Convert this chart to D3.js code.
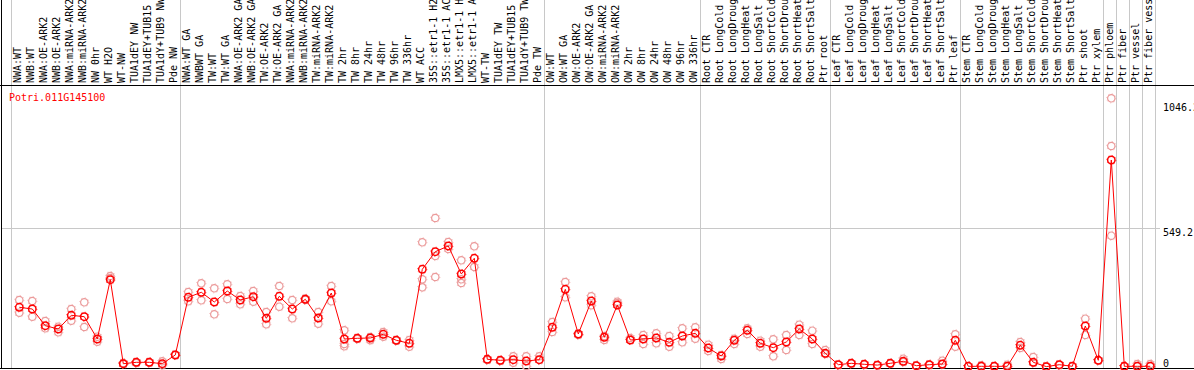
<!DOCTYPE html>
<html>
<head>
<meta charset="utf-8">
<script src="https://cdn.jsdelivr.net/npm/d3@7"></script>
<style>
	body { margin: 0; background: #fff; overflow: hidden; }
	svg { display: block; }
</style>
</head>
<body>
<svg id="chart" width="1194" height="370"></svg>
<script>

const gene = 'Potri.011G145100';

const samples = [
	'NWA:WT', 'NWB:WT', 'NWA:OE-ARK2', 'NWB:OE-ARK2', 'NWA:miRNA-ARK2', 'NWB:miRNA-ARK2',
	'NW 0hr', 'WT H2O', 'WT-NW', 'TUA1dEY NW', 'TUA1dEY+TUB15 NW', 'TUA1dY+TUB9 NW', 'Pde NW',
	'NWA:WT GA', 'NWBWT GA', 'TW:WT', 'TW:WT GA', 'NWA:OE-ARK2 GA', 'NWB:OE-ARK2 GA',
	'TW:OE-ARK2', 'TW:OE-ARK2 GA', 'NWA:miRNA-ARK2 GA', 'NWB:miRNA-ARK2 GA', 'TW:miRNA-ARK2',
	'TW:miRNA-ARK2 GA', 'TW 2hr', 'TW 8hr', 'TW 24hr', 'TW 48hr', 'TW 96hr', 'TW 336hr',
	'WT ACC', '35S::etr1-1 H2O', '35S::etr1-1 ACC', 'LMX5::etr1-1 H2O', 'LMX5::etr1-1 ACC',
	'WT-TW', 'TUA1dEY TW', 'TUA1dEY+TUB15 TW', 'TUA1dY+TUB9 TW', 'Pde TW',
	'OW:WT', 'OW:WT GA', 'OW:OE-ARK2', 'OW:OE-ARK2 GA', 'OW:miRNA-ARK2', 'OW:miRNA-ARK2 GA',
	'OW 2hr', 'OW 8hr', 'OW 24hr', 'OW 48hr', 'OW 96hr', 'OW 336hr',
	'Root CTR', 'Root LongCold', 'Root LongDrought', 'Root LongHeat', 'Root LongSalt',
	'Root ShortCold', 'Root ShortDrought', 'Root ShortHeat', 'Root ShortSalt', 'Ptr root',
	'Leaf CTR', 'Leaf LongCold', 'Leaf LongDrought', 'Leaf LongHeat', 'Leaf LongSalt',
	'Leaf ShortCold', 'Leaf ShortDrought', 'Leaf ShortHeat', 'Leaf ShortSalt', 'Ptr leaf',
	'Stem CTR', 'Stem LongCold', 'Stem LongDrought', 'Stem LongHeat', 'Stem LongSalt',
	'Stem ShortCold', 'Stem ShortDrought', 'Stem ShortHeat', 'Stem ShortSalt', 'Ptr shoot',
	'Ptr xylem', 'Ptr phloem', 'Ptr fiber', 'Ptr vessel', 'Ptr fiber vessel'
];

// first sample of each block (grey separators)
const groupStarts = ['NWA:WT', 'NWA:WT GA', 'OW:WT', 'Root CTR', 'Leaf CTR', 'Stem CTR',
	'Ptr phloem', 'Ptr fiber', 'Ptr vessel', 'Ptr fiber vessel'];

const means = [
	235.7, 228.9, 162.5, 149.4, 203.9, 198.3, 109.7, 345.3, 11.5, 17.1, 17.1, 11.5, 46.1,
	275.4, 295.3, 256.7, 300.4, 264.7, 277.8, 191.9, 279.4, 228.9, 267.5, 193.1, 292.5,
	109.7, 112.5, 113.7, 128.4, 104.5, 92.6, 386.7, 456.6, 479.3, 368.0, 430.4,
	29.0, 25.0, 27.4, 22.3, 27.4,
	156.2, 307.2, 129.6, 260.7, 116.4, 244.8, 105.7, 109.7, 113.7, 96.6, 121.6, 132.3,
	73.9, 42.1, 104.5, 144.3, 92.6, 75.1, 97.8, 149.4, 109.7, 52.9,
	7.6, 13.1, 9.1, 6.0, 13.1, 21.1, 3.6, 7.6, 10.3, 104.5,
	1.2, 1.2, 1.2, 1.2, 84.6, 17.1, 0.0, 7.6, 1.2, 161.3, 25.0,
	821.0, 1.2, 1.2, 1.2
];

const replicates = [
	[264.7, 214.2], [260.7, 198.3], [181.2, 152.2], [158.6, 136.3], [228.9, 182.4],
	[255.5, 157.4], [99.0, 118.8], [360.0, 352.0], [10.3, 14.3], [18.0, 14.0],
	[18.0, 15.0], [21.1, 5.2], [46.0, 48.0],
	[296.5, 259.5], [331.0, 263.5], [311.2, 207.8], [327.0, 268.6], [280.6, 247.6],
	[300.4, 257.9], [217.0, 168.1], [320.3, 238.0], [264.7, 191.9], [270.0, 265.0],
	[217.0, 170.5], [320.3, 259.5], [144.3, 89.8, 80.7], [113.7, 109.7], [117.0, 105.0],
	[137.5, 118.8], [106.0, 103.0], [105.7, 79.1], [494.0, 347.0, 315.0],
	[590.5, 439.5, 356.0], [495.0, 467.3], [422.4, 347.0, 332.2], [478.0, 395.8],
	[29.0, 26.0], [25.0, 22.0], [41.0, 15.5], [41.0, 2.4], [41.0, 26.0],
	[177.2, 137.5], [336.2, 275.4], [129.6, 125.6], [279.4, 243.6], [105.7, 121.6],
	[257.9, 252.7], [105.7, 113.7], [125.6, 89.8], [132.3, 92.6], [121.6, 79.1],
	[152.2, 96.6], [156.2, 110.9],
	[87.0, 62.0], [30.2, 46.0], [110.9, 89.8], [152.2, 129.6], [102.9, 79.1],
	[108.5, 41.0], [125.6, 66.0], [166.5, 125.6], [142.7, 89.8], [66.0, 50.0],
	[7.6, 6.0], [13.1, 12.0], [9.1, 8.0], [6.0, 5.0], [13.1, 12.0], [31.4, 18.0],
	[3.6, 3.0], [7.6, 6.0], [23.4, 9.0], [128.4, 79.1],
	[1.2, 1.0], [5.2, 1.0], [1.2, 1.0], [7.6, 1.0], [97.8, 73.9], [38.2, 15.0],
	[0.0, 1.0], [7.6, 6.0], [1.2, 1.0], [190.4, 125.6], [26.0, 24.0],
	[1066.2, 876.7, 520.2], [1.2, 1.0], [10.3, 1.0], [10.3, 1.0]
];

const yTicks = [1046.2, 549.2, 0];
const yLabels = ['1046.2', '549.2', '0'];

const width = 1194, height = 370;
const headerBottom = 85.5, plotBottom = 368.5;

const svg = d3.select('#chart');

const x = d3.scaleBand()
	.domain(samples)
	.range([11, 11 + 13 * samples.length])
	.padding(0);

const y = d3.scaleLinear()
	.domain([0, 1098.4])
	.range([366.6, 90.2]);

const px = d => x(d) + 8.3;

// grey vertical separators
svg.append('g')
	.selectAll('line')
	.data(groupStarts.map(d => x(d)).concat([x.range()[1]]))
	.join('line')
	.attr('x1', d => d + 0.5).attr('x2', d => d + 0.5)
	.attr('y1', 0).attr('y2', plotBottom)
	.attr('stroke', '#c8c8c8').attr('stroke-width', 1);

// grey horizontal grid at mid value
svg.append('line')
	.attr('x1', 1).attr('x2', 1160)
	.attr('y1', Math.round(y(549.2)) + 0.5).attr('y2', Math.round(y(549.2)) + 0.5)
	.attr('stroke', '#c8c8c8');

// sample names
svg.append('g')
	.selectAll('text')
	.data(samples)
	.join('text')
	.attr('transform', d => `translate(${x(d) + 10},83) rotate(-90)`)
	.attr('font-family', 'DejaVu Sans Mono, monospace')
	.attr('font-size', 10)
	.attr('fill', '#000')
	.text(d => d);

// frame
svg.append('line')
	.attr('x1', 0).attr('x2', width)
	.attr('y1', headerBottom).attr('y2', headerBottom)
	.attr('stroke', '#000');
svg.append('line')
	.attr('x1', 1.5).attr('x2', 1.5)
	.attr('y1', 0).attr('y2', plotBottom)
	.attr('stroke', '#000');
svg.append('line')
	.attr('x1', 0).attr('x2', width)
	.attr('y1', plotBottom).attr('y2', plotBottom)
	.attr('stroke', '#000');

// y labels
svg.append('g')
	.selectAll('text')
	.data(yTicks)
	.join('text')
	.attr('x', 1163)
	.attr('y', d => Math.min(y(d), 359) + 8)
	.attr('font-family', 'DejaVu Sans Mono, monospace')
	.attr('font-size', 10)
	.attr('fill', '#000')
	.text((d, i) => yLabels[i]);

// gene name
svg.append('text')
	.attr('x', 9).attr('y', 101)
	.attr('font-family', 'DejaVu Sans Mono, monospace')
	.attr('font-size', 10)
	.attr('fill', 'red')
	.text(gene);

function marker(g, color, width) {
	g.append('circle').attr('r', 3.7).attr('fill', 'none')
		.attr('stroke', color).attr('stroke-width', width);
	g.append('circle').attr('r', 4.6).attr('fill', 'none')
		.attr('stroke', color).attr('stroke-width', 0.8)
		.attr('stroke-dasharray', '0.9 2.71');
}

// replicates
const repPts = [];
samples.forEach((s, i) => replicates[i].forEach(v => repPts.push([s, v])));
svg.append('g')
	.selectAll('g')
	.data(repPts)
	.join('g')
	.attr('transform', d => `translate(${px(d[0])},${y(d[1])})`)
	.each(function() { marker(d3.select(this), '#eb9a9a', 1.2); });

// means
svg.append('g')
	.selectAll('g')
	.data(means)
	.join('g')
	.attr('transform', (d, i) => `translate(${px(samples[i])},${y(d)})`)
	.each(function() { marker(d3.select(this), 'red', 1.5); });

// mean line
const line = d3.line()
	.x((d, i) => px(samples[i]))
	.y(d => y(d));
svg.append('path')
	.datum(means)
	.attr('d', line)
	.attr('fill', 'none')
	.attr('stroke', 'red')
	.attr('stroke-width', 1);

</script>
</body>
</html>
